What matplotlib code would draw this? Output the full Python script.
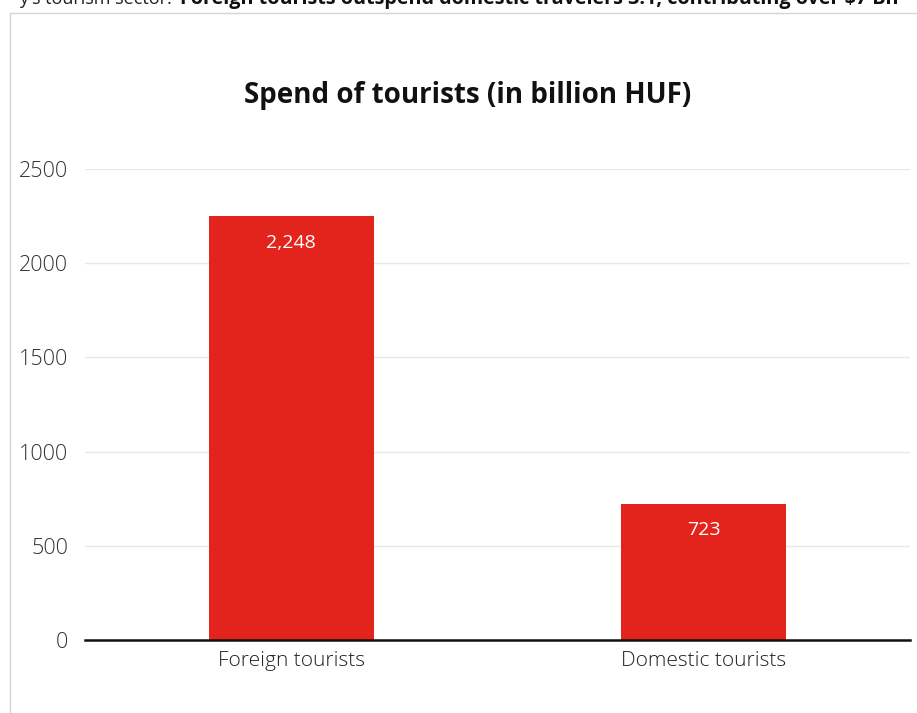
import matplotlib.pyplot as plt
from matplotlib.patches import Rectangle

categories = ['Foreign tourists', 'Domestic tourists']
spend = [2248, 723]
value_labels = ['2,248', '723']
y_ticks = [0, 500, 1000, 1500, 2000, 2500]

title = 'Spend of tourists (in billion HUF)'
heading_lead = "y's tourism sector: "
heading_bold = 'Foreign tourists outspend domestic travelers 3:1, contributing over $7 Bn'

plt.rcParams['font.family'] = ['Open Sans', 'DejaVu Sans']

W, H = 917, 713
fig = plt.figure(figsize=(W / 100, H / 100), dpi=100)
fig.patch.set_facecolor('white')

# chart card behind everything else
card = Rectangle((10 / W, -0.05), 1.1, 1 - 13 / H + 0.05, transform=fig.transFigure,
                 facecolor='white', edgecolor='#d4d4d4', linewidth=1, zorder=-5)
fig.patches.append(card)

# page heading, cut off at the top edge
fig.text(177 / W, 1 - 4 / H, heading_lead, ha='right', va='baseline',
         fontsize=13, color='#222222')
fig.text(180 / W, 1 - 4 / H, heading_bold, ha='left', va='baseline',
         fontsize=14.2, fontweight='bold', color='#111111')

ax = fig.add_axes([85 / W, 1 - 640 / H, (910 - 85) / W, (640 - 169) / H])
ax.set_facecolor('none')
ax.set_zorder(2)

x = list(range(len(categories)))
bars = ax.bar(x, spend, width=0.4, color='#e3241c', zorder=2)

for bar, val, lab in zip(bars, spend, value_labels):
    ax.annotate(lab, (bar.get_x() + bar.get_width() / 2, val),
                xytext=(0, -19), textcoords='offset points',
                ha='center', va='center', color='white', fontsize=14)

ax.set_xlim(-0.5, 1.5)
ax.set_ylim(0, 2500)
ax.set_yticks(y_ticks)
ax.set_yticklabels([str(t) for t in y_ticks], fontsize=15.5, color='#333333',
                   fontweight='light')
ax.set_xticks(x)
ax.set_xticklabels(categories, fontsize=15, color='#222222', fontweight='light')
ax.tick_params(axis='both', length=0)
ax.tick_params(axis='y', pad=12)
ax.tick_params(axis='x', pad=8)

ax.grid(axis='y', color='#e8e8e8', linewidth=1, zorder=0)
ax.set_axisbelow(True)
for side in ['top', 'right', 'left']:
    ax.spines[side].set_visible(False)
ax.spines['bottom'].set_color('#111111')
ax.spines['bottom'].set_linewidth(1.8)
ax.spines['bottom'].set_zorder(3)

fig.text(468 / W, 1 - 95 / H, title, ha='center', va='center',
         fontsize=20, fontweight='bold', color='#111111')

fig.savefig('out.png', dpi=100)
